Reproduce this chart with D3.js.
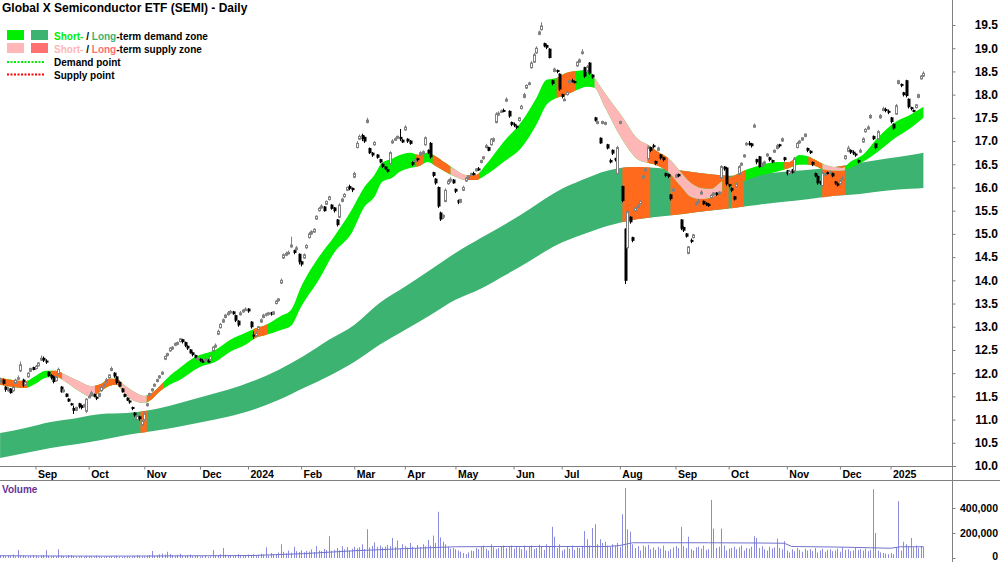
<!DOCTYPE html>
<html><head><meta charset="utf-8">
<script src="https://cdn.jsdelivr.net/npm/d3@7"></script>
<style>
html,body{margin:0;padding:0;background:#fff;}
svg{display:block;font-family:"Liberation Sans",Arial,sans-serif;}
</style></head><body>
<svg id="c" width="1000" height="562"></svg>
<script>
// ---------------- DATA ----------------
const title = "Global X Semiconductor ETF (SEMI) - Daily";
const firstDay = "2023-08-14", lastDay = "2025-01-21";
const holidays = ["2023-12-25","2023-12-26","2024-01-01","2024-01-26","2024-03-29","2024-04-01","2024-04-25","2024-06-10","2024-12-25","2024-12-26","2025-01-01"];
const monthLabels = ["Sep","Oct","Nov","Dec","2024","Feb","Mar","Apr","May","Jun","Jul","Aug","Sep","Oct","Nov","Dec","2025"];
const priceTicks = [10.0,10.5,11.0,11.5,12.0,12.5,13.0,13.5,14.0,14.5,15.0,15.5,16.0,16.5,17.0,17.5,18.0,18.5,19.0,19.5];
const volumeTicks = [0,200,400];           // thousands
const volumeTickLabels = ["0","200,000","400,000"];

// daily candles [open, high, low, close]
const ohlc = [
[11.80,11.90,11.78,11.85],[11.85,11.88,11.75,11.78],[11.70,11.72,11.60,11.65],[11.62,11.70,11.60,11.66],[11.66,11.68,11.56,11.58],[11.62,11.74,11.60,11.70],[11.78,11.88,11.76,11.85],[11.88,11.95,11.85,11.90],[12.05,12.25,12.02,12.18],[11.85,11.88,11.70,11.74],
[11.74,11.84,11.72,11.80],[11.92,12.02,11.90,12.00],[12.04,12.12,12.02,12.10],[12.12,12.14,12.06,12.08],[12.10,12.18,12.08,12.15],[12.16,12.24,12.14,12.22],[12.28,12.38,12.26,12.32],[12.32,12.36,12.24,12.28],[12.26,12.30,12.20,12.24],[12.02,12.04,11.92,11.95],
[11.95,11.98,11.86,11.90],[11.92,11.94,11.78,11.82],[11.84,11.94,11.82,11.92],[11.98,12.12,11.96,12.08],[11.70,11.72,11.58,11.60],[11.60,11.68,11.58,11.64],[11.55,11.56,11.48,11.50],[11.44,11.46,11.38,11.40],[11.34,11.36,11.30,11.32],[11.24,11.30,11.12,11.20],
[11.20,11.28,11.18,11.26],[11.34,11.36,11.24,11.28],[11.30,11.32,11.22,11.26],[11.28,11.34,11.26,11.32],[11.18,11.46,11.14,11.44],[11.48,11.54,11.46,11.50],[11.52,11.62,11.50,11.58],[11.54,11.56,11.48,11.50],[11.48,11.50,11.42,11.46],[11.50,11.58,11.48,11.56],
[11.62,11.72,11.60,11.70],[11.72,11.78,11.70,11.76],[11.80,11.90,11.78,11.86],[11.90,11.98,11.88,11.96],[12.06,12.14,12.04,12.10],[12.00,12.02,11.90,11.94],[11.92,11.94,11.76,11.80],[11.80,11.82,11.70,11.72],[11.66,11.68,11.58,11.60],[11.54,11.56,11.48,11.50],
[11.46,11.48,11.40,11.42],[11.40,11.42,11.34,11.38],[11.26,11.28,11.20,11.24],[11.14,11.16,11.06,11.10],[11.00,11.12,10.98,11.08],[11.06,11.08,10.98,11.02],[10.88,11.00,10.86,10.96],[11.00,11.16,10.96,11.12],[11.30,11.36,11.28,11.34],[11.52,11.58,11.50,11.56],
[11.62,11.68,11.60,11.66],[11.72,11.78,11.70,11.76],[11.82,11.88,11.80,11.86],[11.90,11.96,11.88,11.94],[11.98,12.04,11.96,12.02],[12.30,12.38,12.28,12.36],[12.38,12.44,12.36,12.42],[12.48,12.56,12.46,12.54],[12.52,12.58,12.50,12.56],[12.60,12.66,12.58,12.64],
[12.62,12.68,12.60,12.66],[12.68,12.76,12.66,12.74],[12.72,12.74,12.64,12.68],[12.66,12.68,12.56,12.60],[12.58,12.60,12.50,12.54],[12.50,12.52,12.42,12.44],[12.44,12.46,12.36,12.40],[12.38,12.40,12.32,12.34],[12.30,12.36,12.28,12.32],[12.30,12.32,12.24,12.28],
[12.26,12.30,12.22,12.25],[12.26,12.34,12.24,12.30],[12.28,12.30,12.22,12.24],[12.28,12.38,12.26,12.36],[12.48,12.58,12.46,12.56],[12.56,12.64,12.54,12.60],[12.84,12.94,12.82,12.90],[12.98,13.08,12.96,13.05],[13.10,13.18,13.08,13.15],[13.20,13.28,13.18,13.25],
[13.26,13.34,13.24,13.30],[13.30,13.36,13.28,13.33],[13.32,13.34,13.26,13.28],[13.24,13.26,13.10,13.14],[13.12,13.14,13.00,13.04],[13.26,13.34,13.24,13.30],[13.32,13.38,13.30,13.36],[13.36,13.42,13.34,13.38],[13.38,13.40,13.30,13.34],[13.10,13.12,12.96,13.00],
[12.82,12.90,12.74,12.80],[12.80,12.90,12.78,12.86],[12.94,13.02,12.92,13.00],[13.10,13.18,13.08,13.15],[13.20,13.28,13.18,13.25],[13.25,13.30,13.22,13.28],[13.28,13.32,13.24,13.30],[13.30,13.32,13.24,13.27],[13.27,13.34,13.25,13.32],[13.50,13.58,13.48,13.55],
[13.56,13.62,13.54,13.60],[13.94,14.04,13.92,14.00],[14.48,14.58,14.46,14.55],[14.54,14.62,14.52,14.58],[14.58,14.64,14.56,14.60],[14.72,14.94,14.70,14.76],[14.64,14.66,14.56,14.60],[14.66,14.74,14.64,14.70],[14.56,14.58,14.34,14.40],[14.40,14.42,14.30,14.35],
[14.48,14.58,14.46,14.55],[14.70,14.78,14.68,14.75],[14.92,15.04,14.90,15.00],[15.00,15.08,14.98,15.05],[15.04,15.12,15.02,15.10],[15.32,15.40,15.30,15.38],[15.50,15.58,15.48,15.55],[15.56,15.64,15.54,15.60],[15.58,15.60,15.48,15.50],[15.64,15.72,15.62,15.70],
[15.74,15.82,15.72,15.80],[15.62,15.64,15.52,15.55],[15.56,15.58,15.46,15.50],[15.30,15.32,15.16,15.20],[15.36,15.66,15.34,15.62],[15.70,15.78,15.68,15.75],[15.80,15.88,15.78,15.85],[15.94,16.02,15.92,16.00],[16.02,16.06,15.94,15.98],[15.98,16.00,15.90,15.95],
[16.22,16.34,16.20,16.30],[16.86,17.00,16.84,16.95],[17.04,17.14,17.02,17.10],[17.12,17.16,17.00,17.05],[17.08,17.10,16.96,17.00],[17.40,17.50,17.38,17.45],[16.84,16.86,16.72,16.75],[16.74,16.76,16.66,16.70],[16.92,17.00,16.90,16.97],[16.70,16.72,16.62,16.65],
[16.60,16.62,16.52,16.55],[16.50,16.52,16.42,16.45],[16.44,16.46,16.38,16.40],[16.38,16.40,16.32,16.35],[16.50,16.78,16.48,16.75],[16.96,17.04,16.94,17.00],[17.02,17.08,17.00,17.05],[17.06,17.12,17.04,17.10],[17.08,17.26,17.00,17.05],[17.02,17.04,16.96,16.98],
[17.24,17.34,17.22,17.30],[17.04,17.06,16.96,17.00],[17.00,17.02,16.92,16.95],[16.54,16.56,16.46,16.50],[16.56,16.64,16.54,16.60],[16.62,16.64,16.56,16.60],[16.70,16.78,16.68,16.75],[16.72,16.80,16.70,16.77],[16.92,17.10,16.90,17.07],[16.80,16.82,16.72,16.75],
[16.95,16.98,16.62,16.66],[16.32,16.34,16.22,16.26],[16.18,16.20,16.06,16.10],[16.00,16.02,15.56,15.60],[15.45,15.48,15.28,15.32],[15.36,15.42,15.32,15.40],[15.70,15.98,15.68,15.94],[16.08,16.18,16.06,16.14],[16.14,16.22,16.10,16.18],[16.16,16.18,16.08,16.10],
[15.96,15.98,15.88,15.92],[15.72,15.74,15.64,15.68],[15.68,15.76,15.66,15.74],[15.94,16.04,15.92,16.00],[16.14,16.22,16.12,16.20],[16.20,16.26,16.18,16.22],[16.26,16.32,16.24,16.30],[16.30,16.34,16.26,16.28],[16.36,16.42,16.34,16.40],[16.40,16.44,16.36,16.38],
[16.54,16.60,16.52,16.58],[16.62,16.68,16.60,16.66],[16.86,16.94,16.84,16.90],[16.86,16.88,16.78,16.80],[16.92,17.06,16.90,17.04],[17.00,17.08,16.98,17.05],[17.40,17.62,17.38,17.58],[17.56,17.64,17.54,17.60],[17.62,17.68,17.60,17.65],[17.66,17.70,17.62,17.64],
[17.86,17.94,17.84,17.90],[17.64,17.66,17.50,17.54],[17.40,17.42,17.32,17.36],[17.36,17.40,17.30,17.34],[17.32,17.34,17.26,17.30],[17.44,17.52,17.42,17.50],[17.70,17.78,17.68,17.75],[17.94,18.04,17.92,18.00],[18.14,18.22,18.12,18.20],[18.22,18.28,18.20,18.25],
[18.58,18.72,18.56,18.68],[18.70,18.90,18.68,18.86],[18.90,19.04,18.88,19.00],[19.30,19.38,19.28,19.35],[19.40,19.56,19.38,19.48],[19.10,19.12,19.02,19.05],[19.06,19.08,18.98,19.02],[18.98,19.00,18.78,18.80],[18.30,18.32,18.20,18.24],[18.50,18.58,18.48,18.55],
[18.52,18.54,18.46,18.50],[18.44,18.46,18.08,18.12],[18.00,18.02,17.92,17.96],[17.90,17.94,17.86,17.90],[18.00,18.08,17.98,18.05],[18.26,18.34,18.24,18.30],[18.30,18.34,18.26,18.28],[18.28,18.30,18.24,18.26],[18.62,18.72,18.60,18.70],[18.70,18.78,18.68,18.75],
[18.90,18.98,18.86,18.92],[18.58,18.60,18.36,18.40],[18.50,18.64,18.48,18.60],[18.68,18.70,18.42,18.46],[18.42,18.44,18.34,18.38],[17.50,17.52,17.42,17.45],[17.38,17.44,17.36,17.42],[17.06,17.08,16.94,16.96],[17.38,17.44,17.36,17.42],[17.36,17.42,17.34,17.40],
[16.92,16.94,16.82,16.85],[16.58,16.62,16.52,16.55],[16.80,16.82,16.70,16.74],[16.62,16.64,16.56,16.60],[16.30,16.90,16.28,16.86],[17.38,17.44,17.36,17.42],[16.02,16.04,15.68,15.72],[15.10,15.12,13.92,14.00],[14.70,15.52,14.66,15.48],[15.36,15.38,15.22,15.26],
[14.92,14.94,14.82,14.86],[15.50,15.60,15.48,15.56],[15.58,15.64,15.56,15.60],[15.64,15.72,15.62,15.70],[16.20,16.28,16.18,16.25],[16.36,16.42,16.34,16.40],[16.62,16.90,16.60,16.86],[16.86,16.88,16.76,16.80],[16.90,16.94,16.84,16.88],[16.56,16.58,16.48,16.52],
[16.80,16.88,16.78,16.85],[16.70,16.72,16.60,16.64],[16.64,16.66,16.56,16.60],[16.30,16.32,16.22,16.26],[16.28,16.30,16.20,16.24],[15.84,15.86,15.72,15.76],[15.92,16.00,15.90,15.97],[16.22,16.30,16.20,16.27],[16.28,16.30,16.22,16.25],[15.30,15.32,15.08,15.12],
[15.14,15.16,15.04,15.08],[15.00,15.02,14.92,14.95],[14.58,14.74,14.56,14.72],[14.86,14.90,14.80,14.84],[14.92,15.00,14.90,14.98],[15.62,15.70,15.60,15.66],[15.70,15.76,15.66,15.70],[15.86,15.94,15.84,15.90],[15.70,15.72,15.62,15.65],[15.66,15.68,15.60,15.63],
[15.64,15.66,15.58,15.61],[15.78,15.86,15.76,15.83],[15.84,15.90,15.82,15.88],[15.88,15.90,15.82,15.85],[15.86,15.92,15.84,15.90],[16.20,16.48,16.18,16.45],[16.44,16.46,16.36,16.40],[16.42,16.44,16.04,16.08],[16.06,16.08,16.00,16.04],[15.98,16.00,15.90,15.94],
[15.80,15.82,15.72,15.75],[16.02,16.10,16.00,16.07],[16.28,16.48,16.26,16.45],[16.48,16.54,16.46,16.52],[16.66,16.72,16.64,16.70],[16.92,16.98,16.90,16.95],[16.95,17.00,16.90,16.94],[16.94,16.96,16.86,16.90],[17.30,17.38,17.28,17.34],[16.60,16.62,16.50,16.55],
[16.66,16.68,16.42,16.45],[16.46,16.54,16.44,16.50],[16.50,16.58,16.48,16.55],[16.68,16.74,16.66,16.72],[16.64,16.66,16.56,16.60],[16.58,16.60,16.52,16.55],[16.76,16.82,16.74,16.80],[16.84,16.94,16.82,16.90],[16.92,16.94,16.86,16.90],[17.00,17.08,16.98,17.05],
[16.64,16.66,16.56,16.60],[16.36,16.38,16.26,16.30],[16.30,16.38,16.28,16.35],[16.38,16.40,16.30,16.33],[16.36,16.66,16.34,16.62],[16.86,16.98,16.84,16.95],[16.96,17.02,16.94,17.00],[17.02,17.08,17.00,17.07],[17.10,17.16,17.08,17.15],[16.84,16.86,16.76,16.80],
[16.78,16.80,16.72,16.75],[16.54,16.56,16.46,16.50],[16.30,16.32,16.22,16.25],[16.24,16.26,16.06,16.10],[16.12,16.14,16.06,16.10],[16.04,16.36,16.02,16.32],[16.30,16.34,16.26,16.30],[16.32,16.34,16.28,16.30],[16.30,16.36,16.28,16.33],[16.30,16.32,16.22,16.25],
[16.12,16.14,16.06,16.10],[16.08,16.10,16.02,16.05],[16.08,16.18,16.06,16.15],[16.18,16.24,16.16,16.20],[16.62,16.70,16.60,16.68],[16.78,16.90,16.76,16.85],[16.80,16.82,16.72,16.76],[16.76,16.80,16.70,16.74],[16.72,16.74,16.66,16.70],[16.58,16.60,16.52,16.55],
[16.76,16.84,16.74,16.80],[16.98,17.08,16.96,17.05],[17.20,17.28,17.18,17.25],[17.26,17.34,17.24,17.30],[17.50,17.58,17.48,17.55],[17.10,17.12,17.02,17.05],[16.94,16.96,16.82,16.86],[17.04,17.24,17.02,17.20],[17.50,17.58,17.48,17.55],[17.66,17.74,17.64,17.70],
[17.68,17.72,17.62,17.66],[17.64,17.68,17.58,17.62],[17.50,17.52,17.38,17.42],[17.36,17.38,17.24,17.28],[17.58,17.80,17.56,17.76],[18.24,18.32,18.22,18.30],[18.22,18.24,18.16,18.20],[18.04,18.06,17.96,18.00],[18.30,18.32,17.94,17.98],[17.90,17.92,17.70,17.74],
[17.72,17.74,17.66,17.70],[17.66,17.68,17.62,17.65],[17.72,17.80,17.70,17.78],[17.94,18.02,17.92,18.00],[18.34,18.42,18.32,18.40],[18.40,18.50,18.38,18.46]
];

// daily volume, thousands of units
const volumes = [
22,18,14,20,15,28,12,64,18,20, 14,12,16,22,18,10,20,24,62,16, 12,18,14,70,20,16,12,22,24,14, 10,12,16,8,18,14,12,10,20,14,
12,8,16,10,14,12,18,10,8,12, 14,10,12,16,22,18,12,14,20,24, 56,18,22,30,36,28,50,32,24,18, 26,34,20,18,22,28,14,16,24,12,
18,20,10,14,64,20,22,30,80,26, 20,24,14,18,30,22,16,20,28,24, 30,22,26,34,28,85,22,40,30,26, 44,110,50,38,60,42,90,55,48,62,
46,58,52,70,48,96,60,55,72,64, 175,58,66,80,62,94,70,88,60,74, 90,78,86,110,72,230,84,96,125,90, 100,86,92,104,96,160,88,140,76,110,
96,84,120,90,78,104,88,110,92,145, 100,180,120,370,165,130,110,90,75,80, 70,60,50,40,30,45,60,55,80,70, 90,100,75,60,110,85,70,80,95,100,
80,90,100,75,95,85,70,100,60,90, 100,70,80,105,90,65,110,95,250,170, 80,110,60,70,90,75,100,65,85,80, 90,215,150,100,240,270,110,150,120,130,
100,90,110,100,120,90,350,560,230,210, 110,80,95,60,100,90,105,70,85,65, 90,75,100,60,55,70,85,95,80,250, 95,80,170,70,60,85,90,75,100,65,
70,465,235,80,90,235,100,60,75,80, 90,70,85,100,60,80,75,90,175,160, 80,95,70,60,90,75,85,155,80,70, 135,60,45,70,55,80,65,50,75,60,
70,55,80,45,60,75,50,65,70,55, 60,75,50,85,65,70,55,60,80,65, 70,60,75,55,65,550,200,60,45,40, 35,30,40,30,80,455,60,130,110,90,
160,85,100,80,95,90
];

// volume average line (read at sample days), thousands
const volAvgIdx = [0,20,40,60,80,100,120,140,160,180,200,220,240,245,250,280,300,310,313,330,344,352,356,365];
const volAvg    = [18,16,15,16,18,20,35,58,75,90,92,92,92,100,122,122,120,118,92,88,82,78,90,90];

// long-term band edges (price) at sample days
const longIdx = [0,10,20,30,40,50,60,70,80,90,100,110,120,130,140,150,160,170,180,190,200,210,220,230,240,250,260,270,280,290,300,310,320,330,340,350,360,365];
const longTop = [10.71,10.82,10.95,11.03,11.12,11.14,11.21,11.34,11.49,11.64,11.83,12.07,12.37,12.72,13.04,13.51,13.86,14.22,14.59,14.91,15.22,15.56,15.91,16.16,16.36,16.44,16.42,16.36,16.29,16.25,16.29,16.34,16.38,16.44,16.53,16.62,16.70,16.75];
const longBot = [10.17,10.28,10.39,10.47,10.56,10.67,10.75,10.84,10.95,11.06,11.21,11.42,11.68,11.94,12.24,12.61,12.93,13.25,13.58,13.82,14.12,14.44,14.76,14.98,15.17,15.30,15.37,15.43,15.50,15.56,15.63,15.69,15.75,15.82,15.86,15.93,15.97,15.99];

// short-term band edges (price) at sample days
const shortIdx = [0,5,10,14,18,22,26,31,36,40,43,46,49,53,57,60,63,67,71,75,79,85,91,97,101,105,111,115,119,126,132,139,144,148,151,155,158,162,166,169,172,176,180,184,188,192,199,206,212,216,220,224,228,232,235,239,246,252,256,260,264,269,273,277,281,285,290,294,300,307,312,316,319,322,326,330,333,336,341,347,354,360,365];
const shortTop = [11.90,11.85,11.83,11.94,12.05,12.05,11.96,11.83,11.72,11.77,11.88,11.88,11.75,11.60,11.51,11.57,11.72,11.94,12.11,12.28,12.39,12.50,12.72,12.87,12.97,13.04,13.23,13.36,13.86,14.50,14.94,15.52,16.01,16.27,16.53,16.62,16.70,16.75,16.70,16.75,16.68,16.53,16.38,16.27,16.27,16.49,16.98,17.41,17.93,18.32,18.36,18.47,18.51,18.53,18.36,18.04,17.52,17.05,16.92,16.77,16.64,16.34,16.10,15.99,15.97,16.12,16.25,16.36,16.47,16.55,16.55,16.70,16.68,16.60,16.49,16.44,16.42,16.55,16.70,17.07,17.41,17.57,17.74];
const shortBot = [11.75,11.70,11.68,11.77,11.90,11.92,11.81,11.62,11.49,11.62,11.72,11.75,11.57,11.40,11.36,11.44,11.60,11.75,11.85,12.00,12.13,12.24,12.46,12.61,12.76,12.82,12.93,13.02,13.43,14.01,14.59,15.02,15.58,15.80,16.12,16.21,16.34,16.42,16.47,16.55,16.47,16.34,16.23,16.16,16.16,16.27,16.55,16.85,17.35,17.78,17.93,18.00,18.10,18.17,18.15,17.74,17.03,16.61,16.53,16.47,16.34,16.03,15.80,15.75,15.78,15.91,16.08,16.14,16.25,16.34,16.42,16.49,16.49,16.47,16.38,16.36,16.36,16.42,16.55,16.77,17.07,17.28,17.50];

// colour zones (day index ranges)
const shortSupplyZones = [[24.5,37.5],[47.5,58],[178,184.5],[235,256],[264,285.5],[325,334]];        // pink
const shortTransitionZones = [[0,11],[20,24.5],[37.5,47.5],[58,64.5],[100,105.5],[164.5,167.5],[171,178],[184.5,189.5],[220,227.5],[256,264],[285.5,294.5],[310,314.5],[319.5,325]]; // orange
const longSupplyZones = [[55.5,58],[246,257],[265,288],[289,294],[325,334]];  // orange

// ---------------- DRAW ----------------
const C = {green:"#00ee00", dkgreen:"#3cb371", pink:"#ffb6b6", salmon:"#ff7070", orange:"#ff6a1c",
           up:"#808080", down:"#000000", vol:"#8c8cde", volAvg:"#7272cf", axis:"#808080"};
const FONT = "Liberation Sans, Arial, sans-serif";
const svg = d3.select("#c");
const hol = new Set(holidays);
const fmt = d3.timeFormat("%Y-%m-%d");
const parse = d3.timeParse("%Y-%m-%d");
const dates = d3.timeDay.range(parse(firstDay), d3.timeDay.offset(parse(lastDay),1))
  .filter(d => d.getDay()!==0 && d.getDay()!==6 && !hol.has(fmt(d)));

const x = d3.scaleLinear().domain([0, dates.length-1]).range([0.1, 923.4]);
const y = d3.scaleLinear().domain([10, 19.5]).range([466, 25]);
const yv = d3.scaleLinear().domain([0, 400]).range([558, 508]);

const defs = svg.append("defs");
defs.append("clipPath").attr("id","plotClip").append("rect").attr("x",0).attr("y",0).attr("width",952).attr("height",466);
const plot = svg.append("g").attr("clip-path","url(#plotClip)");

function zoneClip(id, s, e){
  defs.append("clipPath").attr("id",id).append("rect")
    .attr("x", x(s)).attr("y",0).attr("width", Math.max(0, x(e)-x(s))).attr("height",466);
  return "url(#"+id+")";
}

// long-term band
const longData = longIdx.map((i,k)=>({i, t:longTop[k], b:longBot[k]}));
const longArea = d3.area().x(d=>x(d.i)).y0(d=>y(d.b)).y1(d=>y(d.t)).curve(d3.curveMonotoneX);
plot.append("path").datum(longData).attr("d", longArea).attr("fill", C.dkgreen);
longSupplyZones.forEach(([s,e],k)=>{
  plot.append("path").datum(longData).attr("d", longArea).attr("fill", C.orange)
    .attr("clip-path", zoneClip("lz"+k, s, e));
});

// short-term band
const shortData = shortIdx.map((i,k)=>({i, t:shortTop[k], b:shortBot[k]}));
const shortArea = d3.area().x(d=>x(d.i)).y0(d=>y(d.b)).y1(d=>y(d.t)).curve(d3.curveMonotoneX);
plot.append("path").datum(shortData).attr("d", shortArea).attr("fill", C.green);
shortSupplyZones.forEach(([s,e],k)=>{
  plot.append("path").datum(shortData).attr("d", shortArea).attr("fill", C.pink)
    .attr("clip-path", zoneClip("sp"+k, s, e));
});
shortTransitionZones.forEach(([s,e],k)=>{
  plot.append("path").datum(shortData).attr("d", shortArea).attr("fill", C.orange)
    .attr("clip-path", zoneClip("so"+k, s, e));
});

// candles
const candles = plot.append("g");
ohlc.forEach((d,i)=>{
  const [o,h,l,c] = d;
  const up = c >= o;
  const cx = Math.round(x(i));
  candles.append("line").attr("x1",cx+0.5).attr("x2",cx+0.5).attr("y1",y(h)).attr("y2",y(l))
    .attr("stroke", up?C.up:C.down).attr("stroke-width",1);
  const top = y(Math.max(o,c)), bot = y(Math.min(o,c));
  if (up) {
    candles.append("rect").attr("x",cx-0.5).attr("y",top).attr("width",2).attr("height",Math.max(1.5,bot-top))
      .attr("fill","#fff").attr("stroke",C.up).attr("stroke-width",1);
  } else {
    candles.append("rect").attr("x",cx-0.5).attr("y",top-0.5).attr("width",3).attr("height",Math.max(2,bot-top+1))
      .attr("fill",C.down);
  }
});

// price axis
svg.append("line").attr("x1",952.5).attr("x2",952.5).attr("y1",0).attr("y2",480).attr("stroke",C.axis);
svg.append("line").attr("x1",0).attr("x2",956).attr("y1",466.5).attr("y2",466.5).attr("stroke",C.axis);
const yAxis = svg.append("g").attr("transform","translate(952.5,0)")
  .call(d3.axisRight(y).tickValues(priceTicks).tickFormat(d3.format(".1f")).tickSize(3).tickPadding(0));
yAxis.select(".domain").remove();
yAxis.selectAll("line").attr("stroke",C.axis);
yAxis.selectAll("text").attr("x",45.5).attr("text-anchor","end").attr("font-size",12).attr("font-weight","bold")
  .attr("font-family",FONT).attr("fill","#000");

// month ticks
const monthStarts = [];
dates.forEach((d,i)=>{ if(i>0 && d.getMonth()!==dates[i-1].getMonth()) monthStarts.push(i); });
const xAxis = svg.append("g").attr("transform","translate(0,466.5)")
  .call(d3.axisBottom(x).tickValues(monthStarts).tickFormat((d,k)=>monthLabels[k]).tickSize(3).tickPadding(0));
xAxis.select(".domain").remove();
xAxis.selectAll("line").attr("stroke",C.axis);
xAxis.selectAll("text").attr("x",2).attr("dy",0).attr("y",11).attr("text-anchor","start")
  .attr("font-size",10.5).attr("font-weight","bold").attr("font-family",FONT).attr("fill","#000");

svg.append("line").attr("x1",0).attr("x2",1000).attr("y1",480.5).attr("y2",480.5).attr("stroke",C.axis);

// volume panel
svg.append("text").attr("x",2).attr("y",493).attr("font-size",10).attr("font-weight","bold").attr("fill","#663399").text("Volume");
const vg = svg.append("g");
volumes.forEach((v,i)=>{
  vg.append("rect").attr("x",Math.round(x(i))).attr("width",1).attr("y",yv(v)).attr("height",yv(0)-yv(v)).attr("fill",C.vol);
});
const avgData = volAvgIdx.map((i,k)=>({i, v:volAvg[k]}));
vg.append("path").datum(avgData).attr("d", d3.line().x(d=>x(d.i)).y(d=>yv(d.v)))
  .attr("fill","none").attr("stroke",C.volAvg).attr("stroke-width",1);
svg.append("line").attr("x1",952.5).attr("x2",952.5).attr("y1",480).attr("y2",562).attr("stroke",C.axis);
const vAxis = svg.append("g").attr("transform","translate(952.5,0)")
  .call(d3.axisRight(yv).tickValues(volumeTicks).tickFormat((d,k)=>volumeTickLabels[k]).tickSize(3).tickPadding(0));
vAxis.select(".domain").remove();
vAxis.selectAll("line").attr("stroke",C.axis);
vAxis.selectAll("text").attr("x",45.5).attr("text-anchor","end").attr("font-size",10.5).attr("font-weight","bold")
  .attr("font-family",FONT).attr("fill","#000")
  .attr("dy",(d)=> d===0 ? "0.1em" : "0.32em");

// title
svg.append("text").attr("x",2).attr("y",11.5).attr("font-size",12).attr("font-weight","bold").attr("fill","#000").text(title);

// legend
const lg = svg.append("g").attr("font-size",10).attr("font-weight","bold");
lg.append("rect").attr("x",7).attr("y",30).attr("width",17).attr("height",10).attr("fill",C.green);
lg.append("rect").attr("x",31).attr("y",30).attr("width",17).attr("height",10).attr("fill",C.dkgreen);
lg.append("rect").attr("x",7).attr("y",43).attr("width",17).attr("height",10).attr("fill",C.pink);
lg.append("rect").attr("x",31).attr("y",43).attr("width",17).attr("height",10).attr("fill",C.salmon);
const t1 = lg.append("text").attr("x",54).attr("y",39.5);
t1.append("tspan").attr("fill",C.green).text("Short-");
t1.append("tspan").attr("fill","#000").text(" / ");
t1.append("tspan").attr("fill",C.dkgreen).text("Long");
t1.append("tspan").attr("fill","#000").text("-term demand zone");
const t2 = lg.append("text").attr("x",54).attr("y",52.5);
t2.append("tspan").attr("fill",C.pink).text("Short-");
t2.append("tspan").attr("fill","#000").text(" / ");
t2.append("tspan").attr("fill",C.salmon).text("Long");
t2.append("tspan").attr("fill","#000").text("-term supply zone");
lg.append("line").attr("x1",7).attr("x2",45).attr("y1",62).attr("y2",62).attr("stroke",C.green).attr("stroke-width",2).attr("stroke-dasharray","2,1.5");
lg.append("text").attr("x",54).attr("y",66).attr("fill","#000").text("Demand point");
lg.append("line").attr("x1",7).attr("x2",45).attr("y1",74.5).attr("y2",74.5).attr("stroke","#ff0000").attr("stroke-width",2).attr("stroke-dasharray","2,1.5");
lg.append("text").attr("x",54).attr("y",79).attr("fill","#000").text("Supply point");
</script>
</body></html>
